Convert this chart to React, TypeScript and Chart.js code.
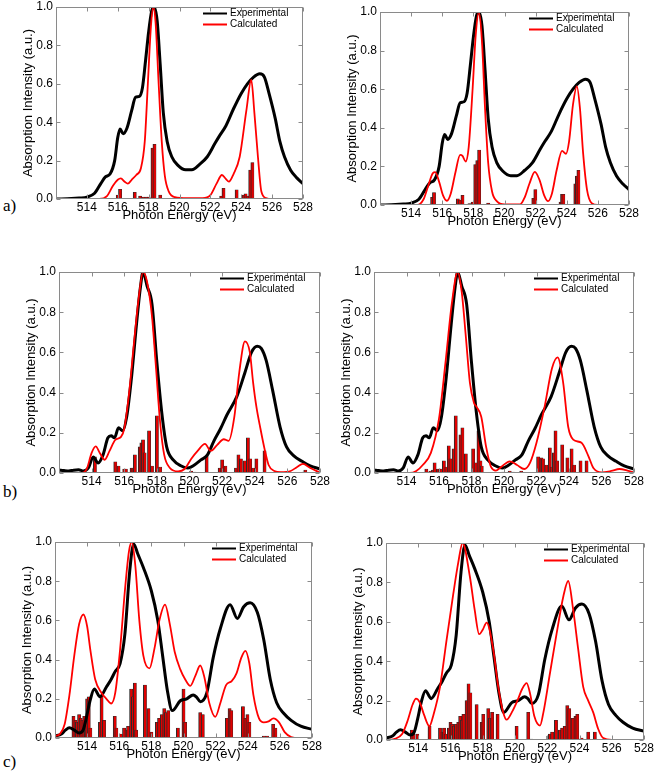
import React, { useEffect, useRef } from 'react';
import { Chart, registerables } from 'chart.js';

Chart.register(...registerables);

type Pt = [number, number];

const xTickValues = [512, 514, 516, 518, 520, 522, 524, 526, 528];
const yTickValues = [0, 0.2, 0.4, 0.6, 0.8, 1.0];
const xTitle = 'Photon Energy (eV)';
const yTitle = 'Absorption Intensity (a.u.)';
const seriesNames = ['Experimental', 'Calculated'];
const rowLabels = ['a)', 'b)', 'c)'];

// ---- row a ----
const expA: Pt[] = [
  [512, 0], [513, 0.002], [513.5, 0.005], [514, 0.01], [514.5, 0.03], [514.9, 0.08], [515.2, 0.115],
  [515.5, 0.13], [515.8, 0.2], [516.0, 0.32], [516.15, 0.365], [516.35, 0.34], [516.6, 0.37], [516.9, 0.46],
  [517.15, 0.53], [517.4, 0.535], [517.6, 0.58], [517.8, 0.72], [518.0, 0.87], [518.2, 0.98], [518.35, 1.0],
  [518.55, 0.93], [518.75, 0.7], [518.95, 0.45], [519.2, 0.3], [519.5, 0.22], [519.9, 0.175], [520.4, 0.152],
  [520.8, 0.152], [521.3, 0.18], [521.8, 0.22], [522.3, 0.29], [522.6, 0.33], [523.0, 0.38], [523.5, 0.47],
  [524.0, 0.55], [524.4, 0.6], [524.8, 0.635], [525.2, 0.652], [525.5, 0.635], [525.8, 0.55], [526.2, 0.42],
  [526.5, 0.3], [526.8, 0.22], [527.2, 0.15], [527.6, 0.11], [528, 0.08],
];
const calcA1: Pt[] = [
  [512, 0], [514.8, 0], [515.3, 0.015], [515.7, 0.07], [516.0, 0.1], [516.2, 0.107], [516.45, 0.09],
  [516.65, 0.08], [516.9, 0.1], [517.2, 0.125], [517.5, 0.16], [517.75, 0.3], [517.95, 0.6], [518.15, 0.9],
  [518.3, 1.0], [518.45, 0.92], [518.65, 0.6], [518.85, 0.3], [519.05, 0.12], [519.3, 0.04], [519.7, 0.01],
  [520.5, 0.005], [521.5, 0.005], [522.0, 0.02], [522.4, 0.08], [522.75, 0.125], [523.0, 0.105],
  [523.2, 0.09], [523.5, 0.13], [523.9, 0.22], [524.33, 0.46], [524.65, 0.62], [524.85, 0.45],
  [525.08, 0.22], [525.3, 0.04], [525.6, 0.005], [526, 0], [528, 0],
];
const sticksA1: Pt[] = [
  [516.0, 0.02], [516.15, 0.05], [517.1, 0.035], [517.45, 0.015], [517.65, 0.01], [517.85, 0.01],
  [518.0, 0.01], [518.25, 0.265], [518.38, 0.285], [518.75, 0.02], [522.7, 0.015], [522.85, 0.055],
  [523.7, 0.048], [524.15, 0.02], [524.28, 0.027], [524.4, 0.015], [524.58, 0.15], [524.72, 0.19],
  [525.3, 0.004],
];
const calcA2: Pt[] = [
  [512, 0], [514.4, 0], [514.8, 0.03], [515.1, 0.1], [515.4, 0.165], [515.55, 0.17], [515.8, 0.12],
  [516.05, 0.05], [516.3, 0.022], [516.55, 0.06], [516.85, 0.17], [517.15, 0.26], [517.3, 0.255],
  [517.5, 0.225], [517.7, 0.3], [517.95, 0.6], [518.15, 0.88], [518.35, 1.0], [518.55, 0.85],
  [518.75, 0.5], [518.95, 0.22], [519.2, 0.07], [519.5, 0.02], [520, 0.003], [521, 0.003], [521.3, 0.04],
  [521.6, 0.11], [521.95, 0.172], [522.25, 0.13], [522.55, 0.05], [522.8, 0.02], [523.05, 0.06],
  [523.35, 0.18], [523.7, 0.28], [523.95, 0.265], [524.15, 0.33], [524.4, 0.52], [524.65, 0.615],
  [524.85, 0.5], [525.05, 0.27], [525.3, 0.08], [525.6, 0.01], [526, 0], [528, 0],
];
const sticksA2: Pt[] = [
  [515.25, 0.005], [515.35, 0.04], [515.47, 0.065], [516.1, 0.003], [517.0, 0.032], [517.12, 0.025],
  [517.3, 0.05], [517.75, 0.008], [517.95, 0.015], [518.12, 0.21], [518.25, 0.23], [518.37, 0.285],
  [518.95, 0.01], [519.05, 0.005], [521.85, 0.035], [521.98, 0.08], [523.6, 0.015], [523.7, 0.055],
  [523.78, 0.055], [524.45, 0.003], [524.55, 0.11], [524.65, 0.15], [524.75, 0.18], [525.35, 0.003],
];

// ---- row b ----
const expB: Pt[] = [
  [512, 0.015], [512.3, 0.012], [512.6, 0.01], [512.9, 0.014], [513.2, 0.016], [513.5, 0.01],
  [513.8, 0.025], [514.1, 0.08], [514.4, 0.05], [514.7, 0.09], [515.0, 0.175], [515.2, 0.185],
  [515.4, 0.175], [515.65, 0.225], [515.9, 0.21], [516.15, 0.28], [516.45, 0.48], [516.75, 0.74],
  [517.0, 0.93], [517.15, 1.0], [517.4, 0.93], [517.7, 0.84], [518.0, 0.55], [518.3, 0.3], [518.6, 0.13],
  [519.0, 0.065], [519.5, 0.035], [519.9, 0.025], [520.3, 0.04], [520.7, 0.065], [521.1, 0.09],
  [521.5, 0.16], [521.9, 0.22], [522.3, 0.29], [522.9, 0.38], [523.4, 0.5], [523.8, 0.6], [524.15, 0.63],
  [524.4, 0.62], [524.7, 0.56], [525.1, 0.41], [525.55, 0.23], [525.95, 0.13], [526.4, 0.085],
  [526.9, 0.058], [527.4, 0.035], [528, 0.02],
];
const calcB1: Pt[] = [
  [512, 0], [513.4, 0], [513.7, 0.02], [514.0, 0.1], [514.25, 0.132], [514.5, 0.1], [514.8, 0.066],
  [515.1, 0.11], [515.45, 0.165], [515.8, 0.18], [516.0, 0.22], [516.3, 0.4], [516.6, 0.65],
  [516.9, 0.88], [517.15, 1.0], [517.4, 0.95], [517.7, 0.78], [517.95, 0.52], [518.2, 0.25],
  [518.45, 0.09], [518.8, 0.025], [519.3, 0.008], [519.7, 0.02], [520.1, 0.07], [520.5, 0.11],
  [520.95, 0.145], [521.3, 0.11], [521.7, 0.14], [522.1, 0.168], [522.4, 0.16], [522.75, 0.28],
  [523.05, 0.5], [523.4, 0.655], [523.7, 0.6], [523.9, 0.45], [524.1, 0.33], [524.35, 0.22],
  [524.6, 0.12], [524.85, 0.04], [525.2, 0.01], [525.6, 0.004], [526.2, 0.01], [526.6, 0.03],
  [526.95, 0.045], [527.4, 0.025], [528, 0.002],
];
const sticksB1: Pt[] = [
  [514.2, 0.08], [515.45, 0.055], [515.65, 0.035], [516.0, 0.02], [516.1, 0.02], [516.45, 0.025],
  [516.55, 0.025], [516.65, 0.09], [516.95, 0.13], [517.05, 0.15], [517.15, 0.165], [517.25, 0.1],
  [517.52, 0.21], [517.7, 0.035], [518.0, 0.285], [518.2, 0.03], [520.1, 0.01], [520.3, 0.005],
  [521.05, 0.085], [521.85, 0.025], [522.0, 0.065], [522.2, 0.035], [522.85, 0.025], [523.0, 0.09],
  [523.15, 0.07], [523.38, 0.06], [523.58, 0.175], [523.72, 0.07], [523.9, 0.025], [524.1, 0.07],
  [524.6, 0.11], [527.0, 0.005], [527.1, 0.015],
];
const calcB2: Pt[] = [
  [512, 0], [514.2, 0], [514.6, 0.01], [515.0, 0.04], [515.5, 0.1], [516.0, 0.27], [516.4, 0.55],
  [516.8, 0.85], [517.15, 1.0], [517.4, 0.9], [517.65, 0.68], [517.9, 0.45], [518.15, 0.35],
  [518.3, 0.33], [518.6, 0.28], [518.9, 0.13], [519.2, 0.03], [519.5, 0.012], [519.9, 0.035],
  [520.35, 0.058], [520.8, 0.04], [521.25, 0.02], [521.6, 0.05], [522.0, 0.15], [522.5, 0.33],
  [522.95, 0.52], [523.3, 0.575], [523.64, 0.45], [523.95, 0.23], [524.26, 0.166], [524.77, 0.15],
  [525.2, 0.083], [525.5, 0.025], [526.0, 0.003], [526.6, 0.01], [527.1, 0.02], [527.6, 0.012],
  [528, 0.002],
];
const sticksB2: Pt[] = [
  [515.22, 0.02], [515.47, 0.01], [515.63, 0.015], [515.73, 0.05], [515.93, 0.02], [516.03, 0.02],
  [516.13, 0.02], [516.3, 0.06], [516.45, 0.03], [516.6, 0.135], [516.7, 0.07], [516.9, 0.12],
  [517.03, 0.285], [517.32, 0.19], [517.44, 0.225], [517.65, 0.095], [518.1, 0.12], [518.25, 0.05],
  [518.43, 0.21], [518.55, 0.06], [518.63, 0.035], [519.95, 0.005], [520.35, 0.01], [520.55, 0.005],
  [521.06, 0.01], [522.1, 0.08], [522.3, 0.075], [522.4, 0.07], [522.6, 0.04], [522.82, 0.125],
  [522.93, 0.03], [523.07, 0.1], [523.17, 0.21], [523.27, 0.06], [523.58, 0.14], [523.9, 0.075],
  [524.16, 0.12], [524.32, 0.04], [524.71, 0.06], [525.08, 0.06],
];

// ---- row c ----
const expC: Pt[] = [
  [512, 0.01], [512.4, 0.02], [512.65, 0.04], [512.9, 0.052], [513.2, 0.04], [513.5, 0.025],
  [513.75, 0.04], [513.97, 0.11], [514.18, 0.19], [514.45, 0.25], [514.8, 0.21], [515.2, 0.26],
  [515.5, 0.3], [515.75, 0.34], [516.05, 0.38], [516.35, 0.53], [516.65, 0.85], [516.9, 0.99],
  [517.15, 0.94], [517.5, 0.87], [518.0, 0.75], [518.4, 0.6], [518.7, 0.42], [519.0, 0.24],
  [519.3, 0.14], [519.8, 0.19], [520.2, 0.2], [520.6, 0.22], [520.8, 0.21], [521.05, 0.185],
  [521.45, 0.23], [521.85, 0.41], [522.3, 0.56], [522.9, 0.68], [523.35, 0.61], [523.75, 0.67],
  [524.15, 0.69], [524.6, 0.64], [525.0, 0.5], [525.4, 0.3], [525.8, 0.18], [526.25, 0.125],
  [526.7, 0.09], [527.3, 0.06], [528, 0.045],
];
const calcC1: Pt[] = [
  [512, 0.01], [512.3, 0.02], [512.6, 0.07], [512.9, 0.22], [513.2, 0.42], [513.5, 0.58],
  [513.77, 0.63], [514.0, 0.57], [514.2, 0.45], [514.5, 0.3], [514.9, 0.23], [515.2, 0.2],
  [515.5, 0.176], [515.75, 0.23], [516.05, 0.45], [516.35, 0.75], [516.6, 0.95], [516.78, 1.0],
  [517.0, 0.88], [517.25, 0.6], [517.5, 0.42], [517.88, 0.355], [518.2, 0.46], [518.5, 0.6],
  [518.85, 0.68], [519.15, 0.58], [519.45, 0.44], [519.8, 0.35], [520.1, 0.3], [520.42, 0.266],
  [520.75, 0.32], [521.04, 0.37], [521.3, 0.31], [521.6, 0.18], [521.98, 0.108], [522.3, 0.18],
  [522.65, 0.27], [523.0, 0.29], [523.3, 0.33], [523.6, 0.41], [523.85, 0.445], [524.1, 0.38],
  [524.35, 0.22], [524.7, 0.1], [525.0, 0.08], [525.3, 0.085], [525.6, 0.1], [525.95, 0.08],
  [526.3, 0.03], [526.7, 0.005], [527.2, 0], [528, 0],
];
const sticksC1: Pt[] = [
  [513.15, 0.11], [513.27, 0.09], [513.37, 0.08], [513.5, 0.12], [513.6, 0.1], [513.7, 0.09],
  [513.82, 0.11], [513.92, 0.06], [514.0, 0.2], [514.1, 0.21], [514.2, 0.05], [514.8, 0.08],
  [514.9, 0.22], [515.05, 0.09], [515.72, 0.11], [515.82, 0.05], [516.1, 0.02], [516.3, 0.05],
  [516.45, 0.04], [516.55, 0.06], [516.74, 0.25], [516.85, 0.21], [516.97, 0.28], [517.05, 0.04],
  [517.6, 0.27], [517.82, 0.15], [518.0, 0.03], [518.34, 0.08], [518.48, 0.1], [518.65, 0.12],
  [518.8, 0.15], [518.9, 0.13], [519.05, 0.14], [519.65, 0.05], [520.0, 0.25], [520.1, 0.08],
  [521.04, 0.13], [521.2, 0.12], [522.7, 0.1], [522.87, 0.15], [522.97, 0.14], [523.7, 0.16],
  [523.85, 0.1], [523.98, 0.12], [524.1, 0.08], [525.0, 0.01], [525.2, 0.01], [525.58, 0.07],
  [525.72, 0.05],
];
const calcC2: Pt[] = [
  [512, 0], [512.5, 0.005], [513.0, 0.03], [513.35, 0.1], [513.65, 0.18], [513.86, 0.21],
  [514.1, 0.19], [514.35, 0.13], [514.69, 0.07], [514.95, 0.13], [515.35, 0.27], [515.76, 0.51],
  [516.17, 0.74], [516.48, 0.9], [516.75, 1.0], [517.2, 0.83], [517.5, 0.66], [517.78, 0.537],
  [518.0, 0.56], [518.24, 0.596], [518.65, 0.46], [518.96, 0.27], [519.27, 0.14], [519.48, 0.103],
  [519.8, 0.14], [520.15, 0.2], [520.45, 0.26], [520.72, 0.289], [520.95, 0.23], [521.2, 0.12],
  [521.55, 0.073], [521.75, 0.135], [522.17, 0.34], [522.58, 0.54], [523.0, 0.73], [523.3, 0.807],
  [523.61, 0.66], [523.92, 0.46], [524.23, 0.27], [524.54, 0.2], [524.85, 0.14], [525.16, 0.056],
  [525.47, 0.01], [526, 0], [528, 0],
];
const sticksC2: Pt[] = [
  [513.6, 0.05], [513.7, 0.03], [513.94, 0.03], [514.7, 0.07], [515.35, 0.06], [515.5, 0.04],
  [515.6, 0.06], [515.7, 0.03], [515.9, 0.06], [516.0, 0.09], [516.1, 0.08], [516.2, 0.07],
  [516.34, 0.08], [516.48, 0.09], [516.6, 0.12], [516.7, 0.1], [516.8, 0.13], [517.0, 0.2],
  [517.12, 0.285], [517.23, 0.24], [517.62, 0.18], [517.93, 0.09], [518.03, 0.13], [518.34, 0.16],
  [518.45, 0.11], [518.58, 0.14], [518.92, 0.13], [520.1, 0.07], [520.82, 0.14], [521.0, 0.005],
  [522.06, 0.02], [522.16, 0.03], [522.3, 0.04], [522.54, 0.1], [522.78, 0.05], [522.92, 0.06],
  [523.08, 0.07], [523.24, 0.175], [523.36, 0.16], [523.57, 0.11], [523.75, 0.12], [523.86, 0.13],
  [524.13, 0.01], [524.54, 0.04], [524.95, 0.04],
];

// ---- layout (plot-area boxes in page pixels) ----
const FONT = "'Liberation Sans', Arial, sans-serif";
const PAD_L = 2, Y_W = 35, PAD_T = 8, PAD_R = 14, X_H = 24;

interface PanelSpec {
  exp: Pt[]; calc: Pt[]; sticks: Pt[];
  L: number; T: number; R: number; B: number;
}

const panels: PanelSpec[] = [
  { exp: expA, calc: calcA1, sticks: sticksA1, L: 56, T: 7, R: 303, B: 199 },
  { exp: expA, calc: calcA2, sticks: sticksA2, L: 380, T: 12, R: 629, B: 205 },
  { exp: expB, calc: calcB1, sticks: sticksB1, L: 59, T: 272, R: 320, B: 473 },
  { exp: expB, calc: calcB2, sticks: sticksB2, L: 374, T: 272, R: 634, B: 473 },
  { exp: expC, calc: calcC1, sticks: sticksC1, L: 55, T: 542, R: 312, B: 738 },
  { exp: expC, calc: calcC2, sticks: sticksC2, L: 386, T: 543, R: 644, B: 740 },
];

const labelPos = [
  { left: 3, top: 197 },
  { left: 3, top: 483 },
  { left: 3, top: 753 },
];

const framePlugin = {
  id: 'frameAndLegend',
  afterDatasetsDraw(chart: any) {
    const { ctx, chartArea: a, scales } = chart;
    const l = Math.round(a.left) + 0.5, r = Math.round(a.right) - 0.5;
    const t = Math.round(a.top) + 0.5, b = Math.round(a.bottom) - 0.5;
    ctx.save();
    ctx.strokeStyle = '#8a8a8a';
    ctx.lineWidth = 1;
    ctx.strokeRect(l, t, r - l, b - t);
    ctx.beginPath();
    const tl = 4;
    for (const v of xTickValues) {
      const px = Math.round(scales.x.getPixelForValue(v)) + 0.5;
      ctx.moveTo(px, b); ctx.lineTo(px, b - tl);
      ctx.moveTo(px, t); ctx.lineTo(px, t + tl);
    }
    for (const v of yTickValues) {
      const py = Math.round(scales.y.getPixelForValue(v)) + 0.5;
      ctx.moveTo(l, py); ctx.lineTo(l + tl, py);
      ctx.moveTo(r, py); ctx.lineTo(r - tl, py);
    }
    ctx.stroke();
    // legend
    const ds = chart.data.datasets;
    ctx.font = `10px ${FONT}`;
    ctx.textBaseline = 'middle';
    ctx.textAlign = 'left';
    ctx.fillStyle = '#000';
    [0, 1].forEach((i) => {
      const y = a.top + 6.5 + i * 11;
      ctx.strokeStyle = ds[i].borderColor;
      ctx.lineWidth = 2;
      ctx.beginPath();
      ctx.moveTo(a.right - 100, y);
      ctx.lineTo(a.right - 76, y);
      ctx.stroke();
      ctx.fillText(ds[i].label, a.right - 73, y);
    });
    ctx.restore();
  },
};

function Panel({ spec }: { spec: PanelSpec }) {
  const ref = useRef<HTMLCanvasElement | null>(null);
  const w = spec.R - spec.L + Y_W + PAD_L + PAD_R;
  const h = spec.B - spec.T + PAD_T + X_H;
  useEffect(() => {
    if (!ref.current) return;
    const chart = new Chart(ref.current, {
      type: 'line',
      data: {
        datasets: [
          {
            type: 'line',
            label: seriesNames[0],
            data: spec.exp.map(([x, y]) => ({ x, y })),
            borderColor: '#000000',
            borderWidth: 3,
            pointRadius: 0,
            cubicInterpolationMode: 'monotone',
            fill: false,
            order: 2,
          },
          {
            type: 'line',
            label: seriesNames[1],
            data: spec.calc.map(([x, y]) => ({ x, y })),
            borderColor: '#ff0000',
            borderWidth: 1.8,
            pointRadius: 0,
            cubicInterpolationMode: 'monotone',
            fill: false,
            order: 1,
          },
          {
            type: 'bar',
            label: 'sticks',
            data: spec.sticks.map(([x, y]) => ({ x, y })),
            backgroundColor: '#e00000',
            borderColor: '#2a2a2a',
            borderWidth: { left: 1, right: 0.5, top: 0.5, bottom: 0 },
            borderSkipped: false,
            barThickness: 3.2,
            order: 3,
          } as any,
        ],
      },
      options: {
        responsive: false,
        animation: false,
        devicePixelRatio: 1,
        events: [],
        layout: { padding: { left: PAD_L, top: PAD_T, right: PAD_R, bottom: 0 } },
        plugins: { legend: { display: false }, tooltip: { enabled: false } },
        scales: {
          x: {
            type: 'linear',
            min: 512,
            max: 528,
            offset: false,
            grid: { display: false, drawTicks: false },
            border: { display: false },
            afterBuildTicks: (s: any) => { s.ticks = xTickValues.map((value) => ({ value })); },
            afterFit: (s: any) => { s.height = X_H; s.paddingLeft = 0; s.paddingRight = 0; },
            ticks: {
              padding: 1,
              autoSkip: false,
              maxRotation: 0,
              color: '#000',
              font: { family: FONT, size: 12 },
              callback: (v: any) => (Number(v) === 512 ? '' : String(v)),
            },
            title: { display: true, text: xTitle, color: '#000', font: { family: FONT, size: 13 }, padding: 0 },
          },
          y: {
            type: 'linear',
            min: 0,
            max: 1,
            grid: { display: false, drawTicks: false },
            border: { display: false },
            afterBuildTicks: (s: any) => { s.ticks = yTickValues.map((value) => ({ value })); },
            afterFit: (s: any) => { s.width = Y_W; s.paddingTop = 0; s.paddingBottom = 0; },
            ticks: {
              padding: 3,
              color: '#000',
              font: { family: FONT, size: 12 },
              callback: (v: any) => Number(v).toFixed(1),
            },
            title: { display: true, text: yTitle, color: '#000', font: { family: FONT, size: 13 }, padding: 0 },
          },
        },
      } as any,
      plugins: [framePlugin],
    });
    return () => chart.destroy();
  }, [spec]);
  return (
    <canvas
      ref={ref}
      width={w}
      height={h}
      style={{
        position: 'absolute',
        left: spec.L - Y_W - PAD_L,
        top: spec.T - PAD_T,
        width: w,
        height: h,
      }}
    />
  );
}

export default function App() {
  return (
    <div style={{ position: 'absolute', left: 0, top: 0, width: 657, height: 772, background: '#fff', overflow: 'hidden' }}>
      {panels.map((p, i) => (
        <Panel key={i} spec={p} />
      ))}
      {rowLabels.map((t, i) => (
        <div
          key={t}
          style={{
            position: 'absolute',
            left: labelPos[i].left,
            top: labelPos[i].top,
            fontFamily: "'Liberation Serif', 'DejaVu Serif', serif",
            fontSize: 17,
            lineHeight: '17px',
            color: '#000',
          }}
        >
          {t}
        </div>
      ))}
    </div>
  );
}
